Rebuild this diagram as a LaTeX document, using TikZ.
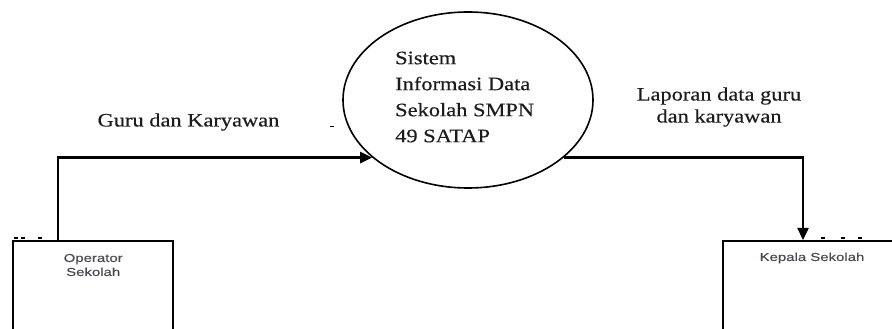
\documentclass[tikz,border=0pt]{standalone}
\usepackage{fontspec}
\setmainfont{Liberation Serif}
\newfontfamily\serifw[FakeStretch=1.18,FakeBold=0.35]{Liberation Serif}
\newfontfamily\sansw[FakeStretch=1.3,FakeBold=0.3]{Liberation Sans}
\usetikzlibrary{arrows.meta,shapes.geometric}
\definecolor{ink}{HTML}{1C1C1C}
\definecolor{boxtxt}{HTML}{4A4A55}
\tikzset{
  flow/.style={line width=2.4pt, draw=black, -{Triangle[length=12pt,width=11pt]}},
  entity/.style={draw=black, line width=2.4pt, rectangle, inner sep=0pt},
  proc/.style={draw=black, line width=1.6pt, ellipse, inner sep=0pt, minimum width=250pt, minimum height=176pt},
  lbl/.style={text=ink, inner sep=0pt, font=\serifw\fontsize{19}{22}\selectfont},
  boxlbl/.style={text=boxtxt, inner sep=0pt, align=center, font=\sansw\fontsize{11.5}{14}\selectfont},
  speck/.style={line width=2.4pt, draw=black}
}
\begin{document}
\begin{tikzpicture}[x=1pt,y=1pt]
\clip (0,0) rectangle (892,329);
\fill[white] (0,0) rectangle (892,329);
% process
\node[proc] (ell) at (468,229) {};
\node[lbl, anchor=west, align=left, font=\serifw\fontsize{19}{26}\selectfont] (et) at (395,232)
  {Sistem\\Informasi Data\\Sekolah SMPN\\49 SATAP};
% entities
\node[entity, anchor=north west, minimum width=160pt, minimum height=130pt] (op) at (12,89) {};
\node[boxlbl] (opt) at ([yshift=-25pt]op.north) {Operator\\Sekolah};
\node[entity, anchor=north west, minimum width=200pt, minimum height=130pt] (kp) at (722,89) {};
\node[boxlbl, anchor=center] (kpt) at (812,71) {Kepala Sekolah};
% connectors
\path (op.north west) ++(46pt,0) coordinate (s1);
\draw[flow] (s1) |- (ell.211);
\path (kp.north west) ++(81pt,0) coordinate (t2);
\draw[flow] (ell.329) -| (t2);
% labels
\node[lbl, anchor=base] (l1) at (188.5,202.5) {Guru dan Karyawan};
\node[lbl, align=center] (l2) at (719,222) {Laporan data guru\\dan karyawan};
% specks
\draw[speck] (14,91) -- (18,91) (21,91) -- (25,91) (38,91) -- (42,91);
\draw[speck] (821,91) -- (825,91) (841,91) -- (845,91) (858,91) -- (862,91);
\draw[line width=1pt] (330,202) -- (334,202);
\end{tikzpicture}
\end{document}
